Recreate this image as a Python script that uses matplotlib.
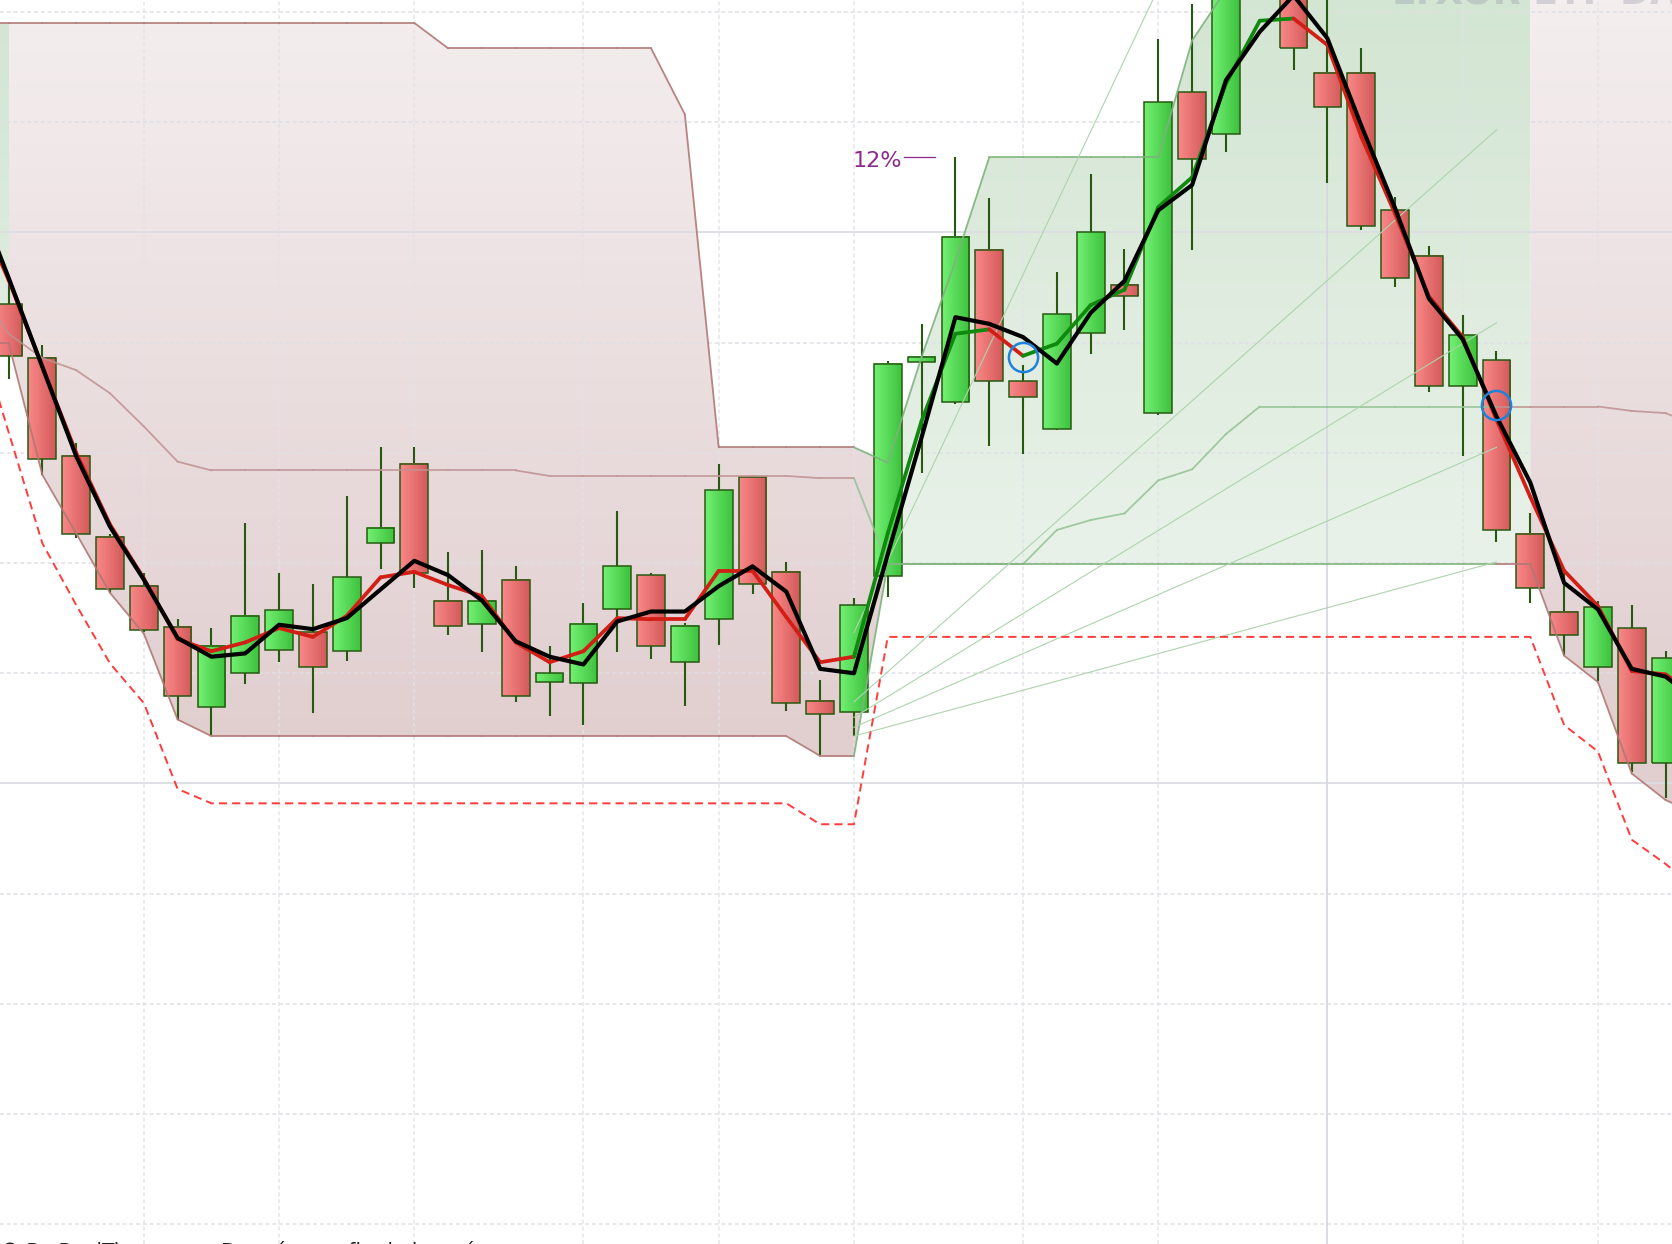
import numpy as np
import matplotlib.pyplot as plt
from matplotlib.collections import LineCollection
from matplotlib.patches import Rectangle

# daily candles, bar 0 .. 49
opens = [104.35, 103.86, 102.97, 102.24, 101.79, 101.42, 100.69, 101.00, 101.21, 101.37,
         101.20, 102.18, 102.90, 101.66, 101.45, 101.85, 100.92, 100.91, 101.58, 101.89,
         101.10, 101.49, 102.78, 101.92, 100.75, 100.65, 101.88, 103.82, 103.46, 104.84,
         103.65, 103.22, 104.09, 104.52, 103.36, 106.27, 105.89, 107.35, 107.30, 106.45,
         106.45, 105.20, 104.79, 103.61, 103.84, 102.26, 101.56, 101.06, 101.41, 100.19]
highs = [104.54, 103.98, 103.09, 102.26, 101.91, 101.49, 101.41, 102.36, 101.91, 101.81,
         102.61, 103.05, 103.05, 102.10, 102.12, 101.97, 101.25, 101.64, 102.47, 101.91,
         101.46, 102.90, 102.79, 102.01, 100.94, 101.68, 103.83, 104.17, 105.68, 105.31,
         103.80, 104.64, 105.53, 104.85, 106.75, 107.07, 107.69, 108.17, 107.50, 107.20,
         106.67, 105.32, 104.88, 104.25, 103.92, 102.45, 101.91, 101.66, 101.62, 101.20]
lows = [103.67, 102.80, 102.23, 101.73, 101.37, 100.58, 100.44, 100.90, 101.10, 100.64,
        101.11, 101.95, 101.77, 101.35, 101.19, 100.74, 100.61, 100.53, 101.19, 101.13,
        100.70, 101.26, 101.72, 100.66, 100.26, 100.43, 101.69, 102.82, 103.44, 103.06,
        102.99, 103.21, 103.90, 104.11, 103.34, 104.84, 105.73, 107.19, 106.47, 105.45,
        105.02, 104.50, 103.55, 102.97, 102.19, 101.64, 101.17, 100.93, 100.10, 99.87]
closes = [103.88, 102.94, 102.26, 101.76, 101.39, 100.79, 101.25, 101.52, 101.57, 101.06,
          101.87, 102.32, 101.91, 101.43, 101.66, 100.79, 101.00, 101.45, 101.97, 101.25,
          101.43, 102.66, 101.81, 100.73, 100.63, 101.62, 103.81, 103.87, 104.96, 103.65,
          103.51, 104.26, 105.00, 104.42, 106.18, 105.67, 107.40, 107.88, 106.67, 106.14,
          105.06, 104.59, 103.61, 104.07, 102.30, 101.77, 101.35, 101.60, 100.19, 101.14]

# indicator values, bar -1 .. 50 (one bar beyond each edge)
ma_fast = [105.38, 104.59, 103.78, 102.97, 102.33, 101.85, 101.32, 101.15, 101.18, 101.44,
           101.40, 101.50, 101.76, 102.02, 101.89, 101.66, 101.29, 101.15, 101.08, 101.47,
           101.56, 101.56, 101.79, 101.97, 101.74, 101.04, 101.00, 102.08, 103.14, 104.23,
           104.17, 104.05, 103.81, 104.27, 104.56, 105.20, 105.43, 106.38, 106.82, 107.15,
           106.76, 105.97, 105.22, 104.40, 104.03, 103.33, 102.73, 101.82, 101.58, 101.04,
           100.97, 100.73]
ma_slow = [105.27, 104.57, 103.78, 103.00, 102.35, 101.86, 101.31, 101.20, 101.28, 101.41,
           101.33, 101.52, 101.87, 101.92, 101.80, 101.70, 101.28, 101.10, 101.20, 101.50,
           101.49, 101.49, 101.93, 101.93, 101.51, 101.10, 101.15, 102.27, 103.29, 104.08,
           104.12, 103.88, 103.99, 104.34, 104.48, 105.23, 105.50, 106.35, 106.92, 106.94,
           106.70, 105.87, 105.17, 104.42, 104.05, 103.30, 102.60, 101.93, 101.61, 101.02,
           100.99, 100.77]
ma_trend = [0] * 27 + [1] * 4 + [0] + [1] * 8 + [0] * 12

chan_hi = [106.90] * 14 + [106.67] * 7 + [106.07] + [103.05] * 5 + [102.91, 103.87, 104.74] \
          + [105.68] * 6 + [106.74, 107.20] + [108.50] * 14
chan_mid = [104.56, 104.08, 103.86, 103.75, 103.54, 103.24, 102.92] + [102.84] * 10 \
           + [102.79] * 8 + [102.77] * 2 + [101.99] * 5 \
           + [102.30, 102.39, 102.45, 102.75, 102.85, 103.17] + [103.42] * 11 + [103.38, 103.36, 103.24]
chan_lo = [104.00, 104.00, 102.80, 102.27, 101.73, 101.36, 100.58] + [100.43] * 18 \
          + [100.25] * 2 + [101.99] * 20 + [101.16, 100.92, 100.09, 99.85, 99.71]
chan_zone = [0] * 27 + [1] * 19 + [0] * 6
stop = [104.21, 103.19, 102.18, 101.62, 101.09, 100.73, 99.95] + [99.82] * 18 \
       + [99.63] * 2 + [101.33] * 20 + [100.53, 100.29, 99.49, 99.27, 99.03]

fan_start = [101.37, 100.74, 100.60, 100.51, 100.43]
fan_end = [113.71, 105.93, 104.18, 103.05, 102.01]
circle_bar = [30, 44]
circle_px = [103.87, 103.43]

hgrid = list(range(96, 108))
vgrid = [4, 8, 12, 17, 21, 25, 30, 34, 43, 47]
vgrid_major = [39]

idx = np.arange(len(opens))
ext = np.arange(-1, len(opens) + 1)
Y_TOP, Y_BOT = 107.108, 95.822

fig = plt.figure(figsize=(16.72, 12.44), dpi=100)
ax = fig.add_axes([0, 0, 1, 1])
ax.set_axis_off()

PINK = ((244, 238, 239), (225, 206, 207), 107.1, 100.25)
GREEN = ((211, 229, 211), (233, 242, 233), 107.1, 101.99)


def grad_fill(a, b, style):
    top, bot, p_top, p_bot = style
    sl = slice(a + 1, b + 2)
    poly = ax.fill_between(ext[sl], np.array(chan_lo)[sl], np.array(chan_hi)[sl],
                           facecolor='none', edgecolor='none')
    ys = np.linspace(Y_BOT, 109, 300)
    t = np.clip((p_top - ys) / (p_top - p_bot), 0, 1)[:, None]
    rgb = (np.array(top) + (np.array(bot) - np.array(top)) * t) / 255
    img = ax.imshow(rgb[:, None, :], extent=[a, b, Y_BOT, 109], origin='lower',
                    aspect='auto', zorder=1, interpolation='bilinear')
    img.set_clip_path(poly.get_paths()[0], transform=ax.transData)


grad_fill(-1, 0, GREEN)
grad_fill(0, 26, PINK)
grad_fill(26, 45, GREEN)
grad_fill(45, 50, PINK)

# grid
for p in hgrid:
    if p % 5 == 0:
        ax.axhline(p, color='#dcdde3', lw=1.3, zorder=1.5)
    else:
        ax.axhline(p, color='#dfdfe6', lw=1.4, ls=(0, (2, 1.5)), alpha=0.8, zorder=1.5)
for i in vgrid:
    ax.axvline(i, color='#e2e2e8', lw=1.4, ls=(0, (2, 1.5)), alpha=0.7, zorder=1.5)
for i in vgrid_major:
    ax.axvline(i, color='#d6d9df', lw=1.3, zorder=1.5)

# candles
w = 0.82
ax.vlines(idx, lows, highs, color='#275a10', lw=1.5, zorder=3)
red_grad = np.linspace([250, 136, 136], [212, 90, 90], 32)[None, :, :] / 255
green_grad = np.linspace([114, 240, 114], [62, 194, 62], 32)[None, :, :] / 255
for i in idx:
    lo, hi = sorted([opens[i], closes[i]])
    grad = green_grad if closes[i] >= opens[i] else red_grad
    ax.imshow(grad, extent=[i - w / 2, i + w / 2, lo, hi], aspect='auto',
              interpolation='bilinear', zorder=3.2)
    ax.add_patch(Rectangle((i - w / 2, lo), w, hi - lo, fill=False,
                           ec='#275a10', lw=1.1, zorder=3.3))


# channel lines, brown in down zones, green in up zones
def zone_line(vals, c_down, c_up, lw):
    segs = [[(ext[k], vals[k]), (ext[k + 1], vals[k + 1])] for k in range(len(ext) - 1)]
    cols = [c_up if chan_zone[k + 1] else c_down for k in range(len(ext) - 1)]
    ax.add_collection(LineCollection(segs, colors=cols, linewidths=lw, zorder=4,
                                     capstyle='round'))


zone_line(chan_hi, (0.69, 0.47, 0.46, 0.9), (0.49, 0.70, 0.49, 0.9), 1.3)
zone_line(chan_mid, (0.75, 0.57, 0.57, 0.85), (0.58, 0.76, 0.58, 0.85), 1.3)
zone_line(chan_lo, (0.69, 0.47, 0.46, 0.9), (0.49, 0.70, 0.49, 0.9), 1.3)

for s, e in zip(fan_start, fan_end):
    ax.plot([25, 44], [s, e], color=(0.68, 0.83, 0.68), lw=0.8, zorder=4)

ax.plot(ext, stop, color='#ff3b3b', lw=1.4, ls=(0, (4.2, 2.6)), zorder=4.5)

# trend-coloured average
segs = [[(ext[k], ma_slow[k]), (ext[k + 1], ma_slow[k + 1])] for k in range(len(ext) - 1)]
cols = ['#0f8a0f' if ma_trend[k + 1] else '#d21e14' for k in range(len(ext) - 1)]
ax.add_collection(LineCollection(segs, colors=cols, linewidths=2.7, zorder=5,
                                 capstyle='round'))
ax.plot(ext, ma_fast, color='black', lw=3.0, zorder=6)

ax.plot(circle_bar, circle_px, 'o', ms=21, mfc='none', mec='#1e82dc', mew=1.8, zorder=7)

ax.text(24.97, 105.65, '12%', color='#8c2a8c', fontsize=16, va='center', ha='left', zorder=8)
ax.plot([26.48, 27.40], [105.68, 105.68], color='#8c2a8c', lw=0.9, zorder=8)

fig.text(1392 / 1672, 1 - 4 / 1244, 'LYXOR ETF DAX', fontsize=26, fontweight='bold',
         color=(0.55, 0.55, 0.62), alpha=0.3, va='baseline', ha='left', zorder=9)
fig.text(0.0, -13 / 1244, '© ProRealTime.com - Données en fin de journée', fontsize=14.5,
         color='#222222', va='baseline', ha='left')

ax.set_xlim(-0.252, 49.19)
ax.set_ylim(Y_BOT, Y_TOP)
fig.savefig('out.png', dpi=100)
